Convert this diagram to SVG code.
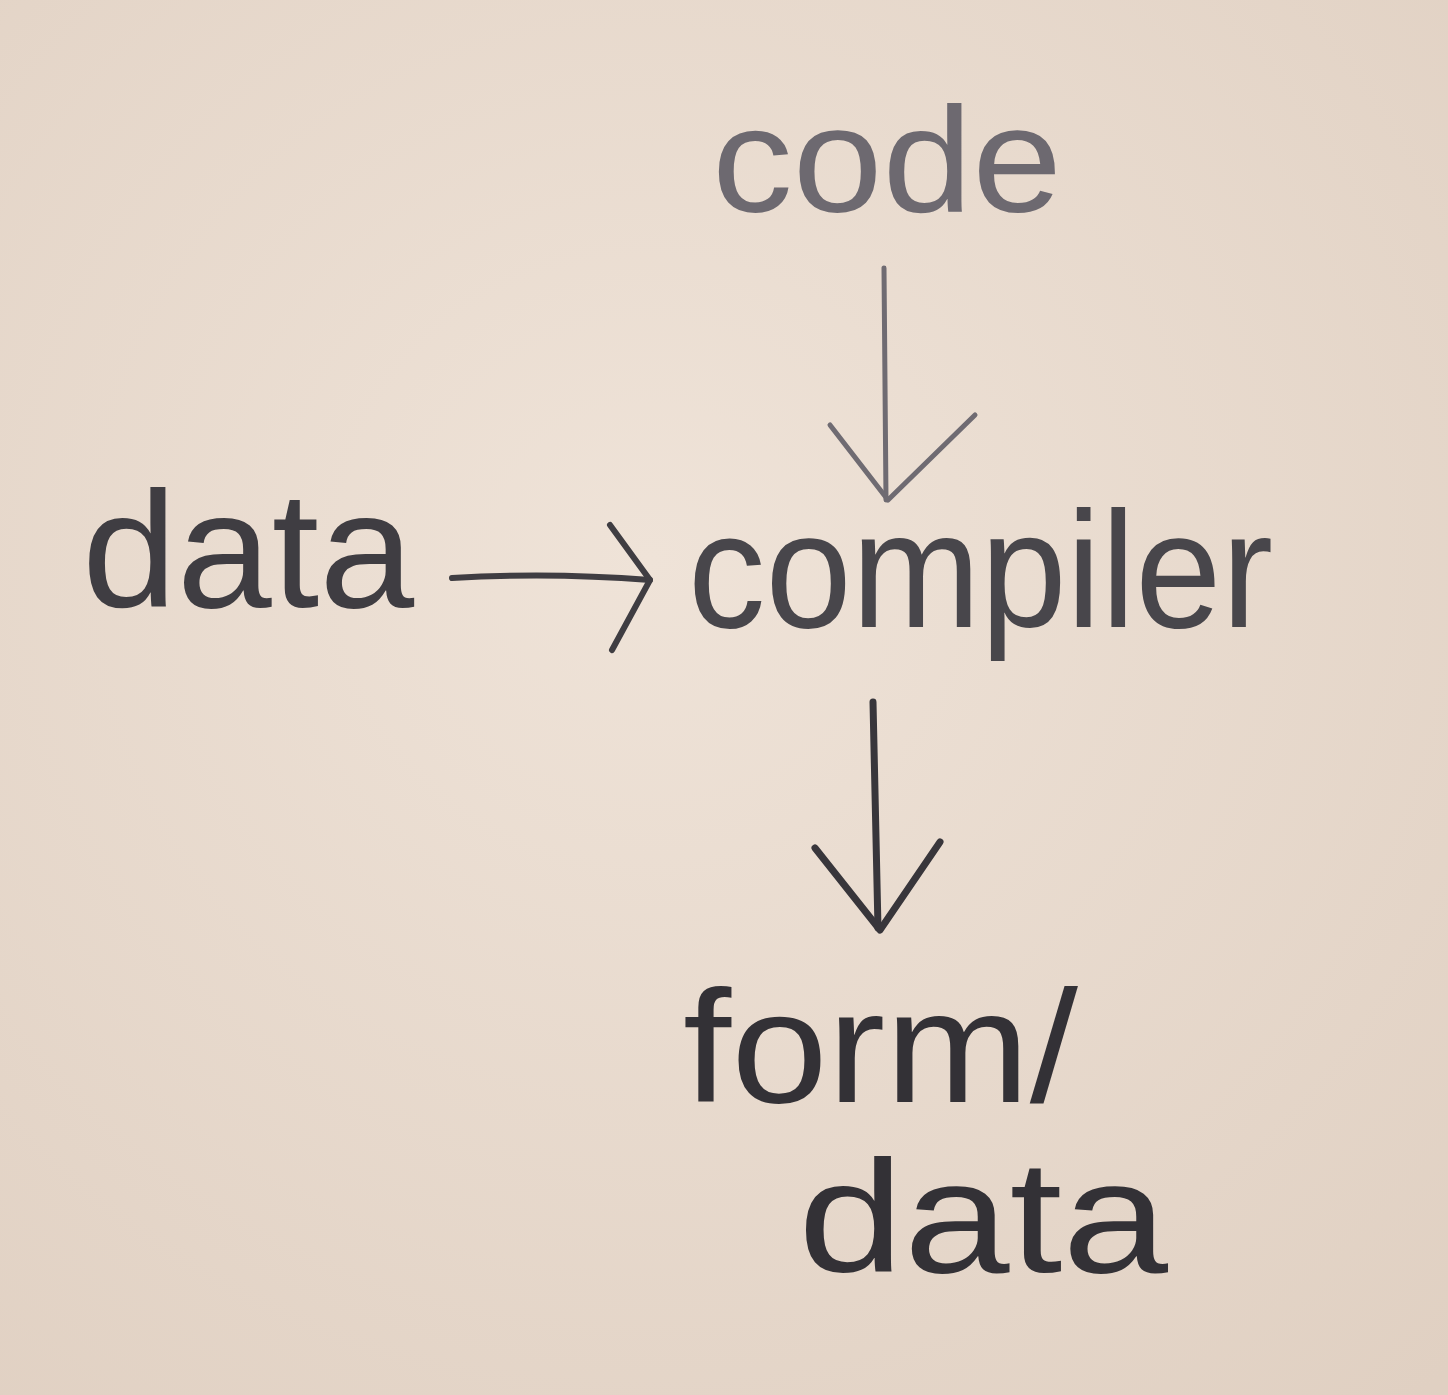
<svg xmlns="http://www.w3.org/2000/svg" width="1448" height="1395" viewBox="0 0 1448 1395">
<defs>
<radialGradient id="paper" cx="0.45" cy="0.4" r="0.8">
<stop offset="0" stop-color="#efe3d8"/>
<stop offset="1" stop-color="#e0d0c2"/>
</radialGradient>
<style>
.lbl{font-family:"Liberation Sans","DejaVu Sans",sans-serif;font-weight:normal}
.pen{fill:none;stroke-linecap:round;stroke-linejoin:round}
</style>
</defs>
<rect width="1448" height="1395" fill="url(#paper)"/>
<g id="node-code"><text class="lbl" x="712" y="212" font-size="150" fill="#6d6970" textLength="350" lengthAdjust="spacingAndGlyphs">code</text></g>
<g id="node-data-in"><text class="lbl" x="82" y="607" font-size="165" fill="#3f3d42" textLength="332" lengthAdjust="spacingAndGlyphs">data</text></g>
<g id="node-compiler"><text class="lbl" x="688" y="627" font-size="165" fill="#48464b" textLength="585" lengthAdjust="spacingAndGlyphs">compiler</text></g>
<g id="node-form-data">
<text class="lbl" x="683" y="1102" font-size="160" fill="#333136" textLength="395" lengthAdjust="spacingAndGlyphs">form/</text>
<text class="lbl" x="798" y="1272" font-size="160" fill="#333136" textLength="370" lengthAdjust="spacingAndGlyphs">data</text>
</g>
<g id="connectors">
<g class="pen" stroke="#6f6b72" stroke-width="5">
<path d="M884 268 L886 500"/>
<path d="M830 425 L888 500 L975 415"/>
</g>
<g class="pen" stroke="#3f3d42" stroke-width="6">
<path d="M452 578 Q550 572 650 580"/>
<path d="M610 525 L650 580 L612 650"/>
</g>
<g class="pen" stroke="#38363b" stroke-width="7">
<path d="M873 702 L878 928"/>
<path d="M815 848 L880 930 L940 842"/>
</g>
</g>
</svg>
